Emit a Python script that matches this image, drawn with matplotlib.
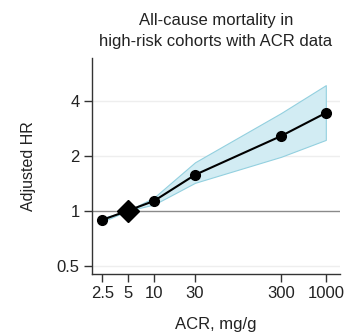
import numpy as np
import matplotlib.pyplot as plt
from matplotlib.ticker import FixedLocator, NullLocator

plt.rcParams['font.family'] = ['Liberation Sans', 'DejaVu Sans']

# data
acr = [2.5, 5, 10, 30, 300, 1000]
hr = [0.89, 1.0, 1.13, 1.57, 2.56, 3.43]
hr_lo = [0.87, 1.0, 1.08, 1.42, 1.97, 2.44]
hr_hi = [0.91, 1.0, 1.18, 1.84, 3.42, 4.87]
ref_x = 5
ref_y = 1.0
xticks = [2.5, 5, 10, 30, 300, 1000]
xtick_labels = ['2.5', '5', '10', '30', '300', '1000']
yticks = [0.5, 1, 2, 4]
ytick_labels = ['0.5', '1', '2', '4']

fig = plt.figure(figsize=(3.45, 3.34), dpi=100)
ax = fig.add_axes([0.267, 0.180, 0.718, 0.646])

ax.set_xscale('log')
ax.set_yscale('log')
ax.set_xlim(1.9, 1456)
ax.set_ylim(0.45, 6.85)

for y in [0.5, 2, 4]:
    ax.axhline(y, color='#eeeeee', lw=1, zorder=0)
ax.axhline(1, color='#8a8a8a', lw=1, zorder=1)

ax.fill_between(acr, hr_lo, hr_hi, facecolor='#d2ecf3', edgecolor='#93d0df',
                lw=0.8, zorder=2)
ax.plot(acr, hr, color='black', lw=1.5, zorder=3)
pts = [(a, h) for a, h in zip(acr, hr) if a != ref_x]
ax.plot([p[0] for p in pts], [p[1] for p in pts], 'o', color='black',
        ms=7, zorder=4)
ax.plot([ref_x], [ref_y], 'D', color='black', ms=11, zorder=5)

ax.xaxis.set_major_locator(FixedLocator(xticks))
ax.set_xticklabels(xtick_labels)
ax.xaxis.set_minor_locator(NullLocator())
ax.yaxis.set_major_locator(FixedLocator(yticks))
ax.set_yticklabels(ytick_labels)
ax.yaxis.set_minor_locator(NullLocator())

for s in ['top', 'right']:
    ax.spines[s].set_visible(False)
for s in ['left', 'bottom']:
    ax.spines[s].set_color('#333333')
    ax.spines[s].set_linewidth(1)
ax.tick_params(axis='both', length=6, width=1, color='#333333',
               labelsize=12, labelcolor='#222222', pad=3)

ax.set_xlabel('ACR, mg/g', fontsize=12, color='#222222', labelpad=11)
ax.set_ylabel('Adjusted HR', fontsize=11.5, color='#222222', labelpad=15)
ax.set_title('All-cause mortality in\nhigh-risk cohorts with ACR data',
             fontsize=12, color='#222222', pad=9, linespacing=1.45)

fig.savefig('out.png', dpi=100)
